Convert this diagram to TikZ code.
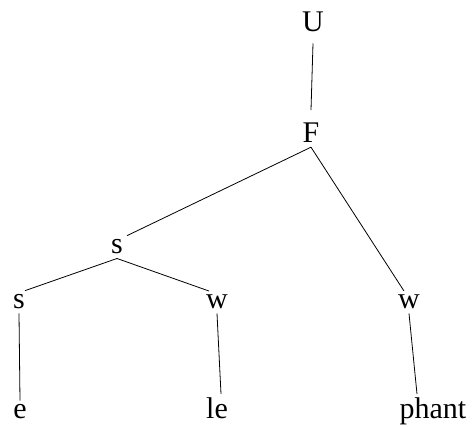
\documentclass[tikz,border=0pt]{standalone}
\usepackage{fontspec}
\setmainfont{Liberation Serif}

\begin{document}
\begin{tikzpicture}[x=1pt,y=-1pt,
		lab/.style={anchor=base,inner sep=4pt,font=\fontsize{30}{36}\selectfont},
		branch/.style={line width=0.8pt}]
			\useasboundingbox (0,0) rectangle (472,427);

			\node[lab] (U) at (313,32) {U};
			\node[lab] (F) at (311,143) {F};
			\node[lab] (s1) at (117,254) {s};
			\node[lab] (s2) at (19,309) {s};
			\node[lab] (w1) at (217,309) {w};
			\node[lab] (w2) at (409,309) {w};
			\node[lab] (e) at (20,419) {e};
			\node[lab] (le) at (217,419) {le};
			\node[lab] (phant) at (433,419) {phant};

			\draw[branch] ([yshift=-7pt]U.south) -- ([yshift=9pt]F.north);
			\draw[branch] (F.south) -- ([xshift=10pt]s1.north);
			\draw[branch] (F.south) -- ([xshift=-5pt]w2.north);
			\draw[branch] (s1.south) -- ([xshift=6pt]s2.north);
			\draw[branch] (s1.south) -- ([xshift=-8pt]w1.north);
			\draw[branch] (s2.south) -- (e.north);
			\draw[branch] (w1.south) -- ([xshift=4pt]le.north);
			\draw[branch] (w2.south) -- ([xshift=-16pt]phant.north);
		\end{tikzpicture}
\end{document}
